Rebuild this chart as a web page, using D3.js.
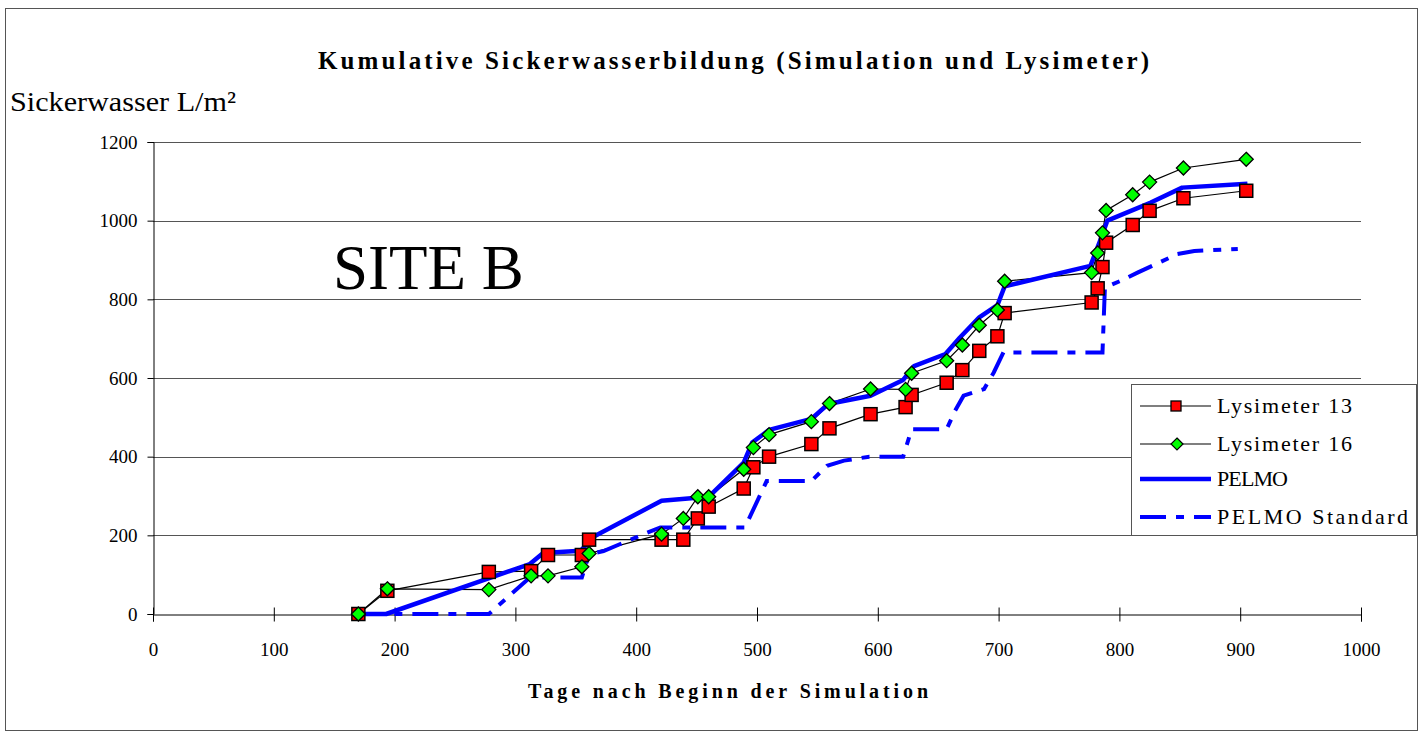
<!DOCTYPE html>
<html>
<head>
<meta charset="utf-8">
<script src="https://cdn.jsdelivr.net/npm/d3@7"></script>
<style>
  html, body { margin: 0; padding: 0; background: #fff; }
  svg { display: block; }
  text { font-family: "Liberation Serif", "Times New Roman", serif; fill: #000; }
</style>
</head>
<body>
<svg id="chart" width="1426" height="737"></svg>
<script>
// Days after simulation start at which the lysimeters were sampled
const lysDays = [170, 194, 278, 313, 327, 355, 361, 421, 439, 451, 460, 489, 497, 510, 545, 560,
                 594, 623, 628, 657, 670, 684, 699, 705, 777, 782, 786, 789, 811, 825, 853, 905];
// Cumulative leachate, L/m²
const lys13 = [0, 59, 107, 109, 150, 150, 189, 189, 189, 243, 273, 319, 373, 400, 432, 472,
               508, 526, 557, 588, 620, 669, 706, 765, 792, 828, 882, 944, 989, 1025, 1057, 1076];
const lys16 = [0, 64, 62, 97, 97, 120, 154, 203, 243, 298, 298, 368, 423, 456, 489, 535,
               572, 571, 612, 644, 684, 734, 773, 846, 868, 918, 969, 1026, 1066, 1098, 1134, 1156];

// PELMO simulation (calibrated)
const pelmoDays = [170, 193, 270, 312, 323, 354, 365, 421, 460, 489, 496, 510, 545, 559,
                   594, 621, 630, 656, 668, 684, 699, 705, 776, 784, 790, 826, 852, 906];
const pelmoVals = [0, 0, 82, 127, 155, 161, 197, 288, 298, 385, 436, 468, 496, 534,
                   555, 595, 630, 661, 703, 754, 785, 833, 885, 949, 1000, 1046, 1084, 1094];

// PELMO simulation with standard parameters
const stdDays = [170, 278, 312, 355, 361, 373, 403, 420, 490, 508, 545, 558, 572, 593, 621,
                 628, 657, 664, 671, 688, 696, 704, 786, 788, 801, 815, 848, 862, 898];
const stdVals = [0, 0, 93, 93, 152, 160, 199, 220, 220, 338, 338, 377, 390, 400, 400,
                 470, 470, 517, 555, 572, 614, 665, 665, 830, 847, 868, 915, 923, 928];

const xTicks = [0, 100, 200, 300, 400, 500, 600, 700, 800, 900, 1000];
const yTicks = [0, 200, 400, 600, 800, 1000, 1200];

const seriesNames = ["Lysimeter 13", "Lysimeter 16", "PELMO", "PELMO Standard"];

const svg = d3.select("#chart");

// outer chart frame
svg.append("rect")
  .attr("x", 5.5).attr("y", 8.5).attr("width", 1412).attr("height", 722)
  .attr("fill", "#fff").attr("stroke", "#555").attr("stroke-width", 1);

const plot = { left: 153, right: 1361, top: 142, bottom: 614 };
const x = d3.scaleLinear().domain([0, 1000]).range([plot.left, plot.right]);
const y = d3.scaleLinear().domain([0, 1200]).range([plot.bottom, plot.top]);

// horizontal grid lines
svg.append("g")
  .selectAll("line")
  .data(yTicks.filter(d => d > 0))
  .join("line")
  .attr("x1", plot.left).attr("x2", plot.right)
  .attr("y1", d => Math.round(y(d)) + 0.5).attr("y2", d => Math.round(y(d)) + 0.5)
  .attr("stroke", "#555").attr("stroke-width", 1);

// y axis
const yAxis = svg.append("g")
  .attr("transform", `translate(${plot.left + 0.5},0)`)
  .call(d3.axisLeft(y).tickValues(yTicks).tickSize(6).tickPadding(10).tickFormat(d3.format("d")));
yAxis.select(".domain").attr("stroke", "#000");
yAxis.selectAll(".tick line").attr("stroke", "#000");
yAxis.selectAll(".tick text")
  .style("font-family", '"Liberation Serif", serif').style("font-size", "19px");

// x axis with ticks crossing the axis line
const xAxis = svg.append("g")
  .attr("transform", `translate(0,${plot.bottom + 0.5})`)
  .call(d3.axisBottom(x).tickValues(xTicks).tickSize(7).tickPadding(21).tickFormat(d3.format("d")));
xAxis.select(".domain").attr("stroke", "#000");
xAxis.selectAll(".tick line").attr("y1", -7).attr("stroke", "#000");
xAxis.selectAll(".tick text")
  .style("font-family", '"Liberation Serif", serif').style("font-size", "19px");

const line = d3.line().x(d => x(d[0])).y(d => y(d[1]));
const zip = (a, b) => a.map((v, i) => [v, b[i]]);

const d13 = zip(lysDays, lys13);
const d16 = zip(lysDays, lys16);
const dPelmo = zip(pelmoDays, pelmoVals);
const dStd = zip(stdDays, stdVals);

// lysimeter connecting lines
svg.append("path").datum(d13).attr("d", line)
  .attr("fill", "none").attr("stroke", "#000").attr("stroke-width", 1.2);
svg.append("path").datum(d16).attr("d", line)
  .attr("fill", "none").attr("stroke", "#000").attr("stroke-width", 1.2);

// simulations
svg.append("path").datum(dPelmo).attr("d", line)
  .attr("fill", "none").attr("stroke", "#0000ff").attr("stroke-width", 4.5)
  .attr("stroke-linejoin", "round");
svg.append("path").datum(dStd).attr("d", line)
  .attr("fill", "none").attr("stroke", "#0000ff").attr("stroke-width", 4)
  .attr("stroke-dasharray", "26,10,8,10");

// markers
const sq = 13;
svg.append("g").selectAll("rect")
  .data(d13).join("rect")
  .attr("x", d => x(d[0]) - sq / 2).attr("y", d => y(d[1]) - sq / 2)
  .attr("width", sq).attr("height", sq)
  .attr("fill", "#ff0000").attr("stroke", "#000").attr("stroke-width", 1.5);

const dia = 7;
const diamond = (cx, cy, r) => `M${cx},${cy - r}L${cx + r},${cy}L${cx},${cy + r}L${cx - r},${cy}Z`;
svg.append("g").selectAll("path")
  .data(d16).join("path")
  .attr("d", d => diamond(x(d[0]), y(d[1]), dia))
  .attr("fill", "#00ff00").attr("stroke", "#000").attr("stroke-width", 1.3);

// titles
svg.append("text")
  .attr("x", 318).attr("y", 69)
  .attr("textLength", 831).attr("lengthAdjust", "spacing")
  .style("font-size", "25px").style("font-weight", "bold")
  .text("Kumulative Sickerwasserbildung (Simulation und Lysimeter)");

svg.append("text")
  .attr("x", 10).attr("y", 111)
  .attr("textLength", 226).attr("lengthAdjust", "spacingAndGlyphs")
  .style("font-size", "28px")
  .text("Sickerwasser L/m²");

svg.append("text")
  .attr("x", 528).attr("y", 698)
  .attr("textLength", 400).attr("lengthAdjust", "spacing")
  .style("font-size", "20px").style("font-weight", "bold")
  .text("Tage nach Beginn der Simulation");

svg.append("text")
  .attr("x", 333).attr("y", 289)
  .style("font-size", "63px")
  .text("SITE B");

// legend
const lg = svg.append("g");
lg.append("rect")
  .attr("x", 1131.5).attr("y", 384.5).attr("width", 285).attr("height", 151)
  .attr("fill", "#fff").attr("stroke", "#555").attr("stroke-width", 1);

const rowY = [406, 444, 479, 517];
const labelLen = [135, 135, 71, 191];
seriesNames.forEach((name, i) => {
  const yy = rowY[i];
  const l = lg.append("line")
    .attr("x1", 1140).attr("x2", 1211).attr("y1", yy).attr("y2", yy);
  if (i < 2) {
    l.attr("stroke", "#000").attr("stroke-width", 1.2);
  } else if (i === 2) {
    l.attr("stroke", "#0000ff").attr("stroke-width", 4.5);
  } else {
    l.attr("stroke", "#0000ff").attr("stroke-width", 4).attr("stroke-dasharray", "26,10,8,10");
  }
  if (i === 0) {
    lg.append("rect").attr("x", 1176 - 5).attr("y", yy - 5).attr("width", 10).attr("height", 10)
      .attr("fill", "#ff0000").attr("stroke", "#000").attr("stroke-width", 1.3);
  } else if (i === 1) {
    lg.append("path").attr("d", diamond(1177, yy, 6))
      .attr("fill", "#00ff00").attr("stroke", "#000").attr("stroke-width", 1.2);
  }
  lg.append("text")
    .attr("x", 1217).attr("y", yy + 7)
    .attr("textLength", labelLen[i]).attr("lengthAdjust", "spacing")
    .style("font-size", "22px")
    .text(name);
});
</script>
</body>
</html>
